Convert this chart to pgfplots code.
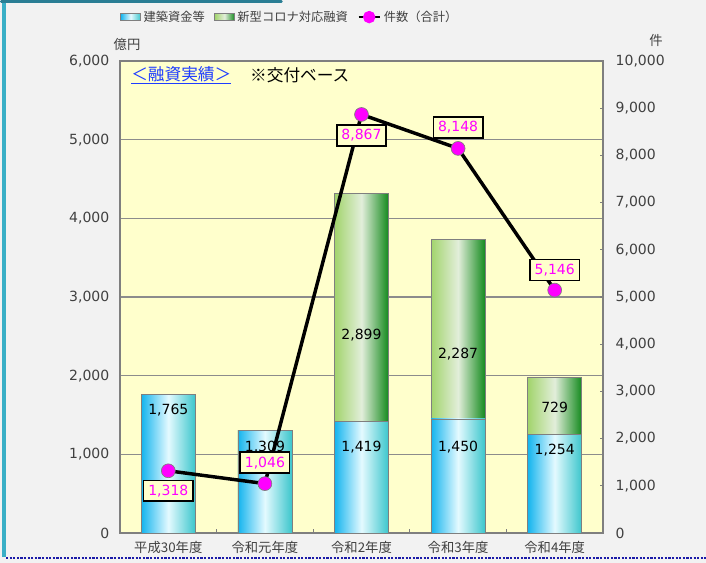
\documentclass[border=0pt]{standalone}
\usepackage{fontspec}
\setmainfont{Noto Sans CJK JP}
\newfontfamily\numfont{DejaVu Sans}
\usepackage{pgfplots}
\usepackage{pgfplotstable}
\pgfplotsset{compat=1.18}
\definecolor{bggray}{HTML}{F2F2F2}
\definecolor{plotbg}{HTML}{FFFFCC}
\definecolor{axgray}{HTML}{7F7F7F}
\definecolor{gridgray}{HTML}{8C8C8C}
\definecolor{lblgray}{HTML}{404040}
\definecolor{bL}{HTML}{14B4EE}
\definecolor{bM}{HTML}{E4FAFF}
\definecolor{bR}{HTML}{3CC6CC}
\definecolor{gL}{HTML}{A2D46C}
\definecolor{gM}{HTML}{E2EEDA}
\definecolor{gR}{HTML}{148A1E}
\definecolor{mag}{HTML}{FF00FF}
\definecolor{tealT}{HTML}{2A7E94}
\definecolor{tealL}{HTML}{3AAFC6}
\definecolor{dotblue}{HTML}{1A1AA8}
\definecolor{linkblue}{HTML}{1E3CFF}

\pgfplotstableread{
x ken cor cnt
0 1765 0 1318
1 1309 0 1046
2 1419 2899 8867
3 1450 2287 8148
4 1254 729 5146
}\data

\tikzset{
  blbl/.style={font=\numfont\fontsize{10.5}{12}\selectfont, text=black, inner sep=0pt},
  lbox/.style={draw=black, line width=1.1pt, fill=plotbg, text=mag,
               inner xsep=3.5pt, inner ysep=3.3pt,
               font=\numfont\fontsize{10.5}{12}\selectfont},
}

\begin{document}
\begin{tikzpicture}
\useasboundingbox (0,0) rectangle (529.5pt,422.25pt);
\fill[bggray] (0,0) rectangle (529.5pt,422.25pt);
% frame decorations
\fill[tealL] (1.5pt,4.5pt) rectangle (4.5pt,422.25pt);
\fill[tealT, rounded corners=1pt] (0pt,420pt) rectangle (212pt,422.25pt);
\draw[dotblue, line width=1.6pt, dash pattern=on 1.6pt off 1.1pt] (4.5pt,3.75pt) -- (529.5pt,3.75pt);

\begin{axis}[
  at={(90pt,22.5pt)}, anchor=south west,
  width=362.25pt, height=354pt, scale only axis,
  xmin=-0.5, xmax=4.5, ymin=0, ymax=6000,
  axis background/.style={fill=plotbg},
  axis line style={draw=axgray, line width=1.3pt},
  xtick={0,1,2,3,4},
  xticklabels={平成30年度,令和元年度,令和2年度,令和3年度,令和4年度},
  xtick pos=bottom, ytick pos=left,
  major x tick style={draw=none},
  minor xtick={0.5,1.5,2.5,3.5},
  minor x tick style={draw=axgray, line width=0.8pt},
  minor tick length=3pt, tick align=inside,
  ytick={0,1000,...,6000},
  major y tick style={draw=none},
  ymajorgrids, grid style={draw=gridgray, line width=0.9pt},
  xticklabel style={font=\fontsize{10}{12}\selectfont, text=lblgray, yshift=-3pt},
  yticklabel style={font=\numfont\fontsize{10.5}{12}\selectfont, text=lblgray, xshift=-4.5pt},
  scaled y ticks=false,
  /pgf/number format/.cd, 1000 sep={,}, assume math mode=true,
]
\pgfplotsinvokeforeach{0,1,2,3,4}{
  \addplot[ybar, bar width=40.5pt, bar shift=0pt, draw=axgray, line width=0.5pt,
    left color=gL, right color=gR, middle color=gM, forget plot,
    x filter/.expression={abs(x-#1)<0.1 ? x : nan}]
    table[x=x, y expr=\thisrow{ken}+\thisrow{cor}] {\data};
  \addplot[ybar, bar width=40.5pt, bar shift=0pt, draw=axgray, line width=0.5pt,
    left color=bL, right color=bR, middle color=bM, forget plot,
    x filter/.expression={abs(x-#1)<0.1 ? x : nan}]
    table[x=x, y=ken] {\data};
}
% bar value labels
\node[blbl] at (axis cs:0,1563) {1,765};
\node[blbl] at (axis cs:1,1093) {1,309};
\node[blbl] at (axis cs:2,1093) {1,419};
\node[blbl] at (axis cs:3,1093) {1,450};
\node[blbl] at (axis cs:4,1055) {1,254};
\node[blbl] at (axis cs:2,2517) {2,899};
\node[blbl] at (axis cs:3,2275) {2,287};
\node[blbl] at (axis cs:4,1601) {729};
% inner notes
\node[anchor=west, text=linkblue, font=\fontsize{12.5}{14}\selectfont, inner sep=0pt]
  at (axis description cs:0.0228,0.970) {\underline{＜融資実績＞}};
\node[anchor=west, text=black, font=\fontsize{12.5}{14}\selectfont, inner sep=0pt]
  at (axis description cs:0.269,0.970) {※交付ベース};
\end{axis}

\begin{axis}[
  at={(90pt,22.5pt)}, anchor=south west,
  width=362.25pt, height=354pt, scale only axis,
  xmin=-0.5, xmax=4.5, ymin=0, ymax=10000,
  hide x axis,
  axis y line*=right,
  y axis line style={draw=none},
  ytick={0,1000,...,10000},
  scaled y ticks=false,
  tick align=inside, major tick length=2.5pt,
  major y tick style={draw=axgray, line width=0.8pt},
  yticklabel style={font=\numfont\fontsize{10.5}{12}\selectfont, text=lblgray, xshift=6pt},
  legend style={at={(-0.008,1.093)}, anchor=west, draw=none, fill=none,
    font=\fontsize{9.2}{11}\selectfont, text=lblgray,
    /tikz/every even column/.append style={column sep=5pt}},
  legend columns=3,
  legend cell align=left,
  /pgf/number format/.cd, 1000 sep={,}, assume math mode=true,
]
\addlegendimage{legend image code/.code={\path[draw=axgray, line width=0.4pt, left color=bL, right color=bR, middle color=bM] (0pt,-2.6pt) rectangle (15pt,2.6pt);}}
\addlegendentry{建築資金等}
\addlegendimage{legend image code/.code={\path[draw=axgray, line width=0.4pt, left color=gL, right color=gR, middle color=gM] (0pt,-2.6pt) rectangle (15pt,2.6pt);}}
\addlegendentry{新型コロナ対応融資}
\addplot[black, line width=2.6pt, mark=*, mark size=5.2pt,
  mark options={fill=mag, draw=axgray, line width=0.5pt},
  legend image code/.code={\draw[black, line width=2pt] (0pt,0pt) -- (16pt,0pt);
     \fill[mag] (8pt,0pt) circle (3.3pt);}]
  table[x=x, y=cnt] {\data};
\addlegendentry{件数（合計）}
\node[lbox, yshift=-15pt] at (axis cs:0,1318) {1,318};
\node[lbox, yshift=15.75pt] at (axis cs:1,1046) {1,046};
\node[lbox, yshift=-15.75pt] at (axis cs:2,8867) {8,867};
\node[lbox, yshift=15.75pt] at (axis cs:3,8148) {8,148};
\node[lbox, yshift=15pt] at (axis cs:4,5146) {5,146};
\end{axis}

\node[font=\fontsize{10}{12}\selectfont, text=lblgray] at (95.25pt,389.25pt) {億円};
\node[font=\fontsize{10}{12}\selectfont, text=lblgray] at (492pt,392.25pt) {件};
\end{tikzpicture}
\end{document}
